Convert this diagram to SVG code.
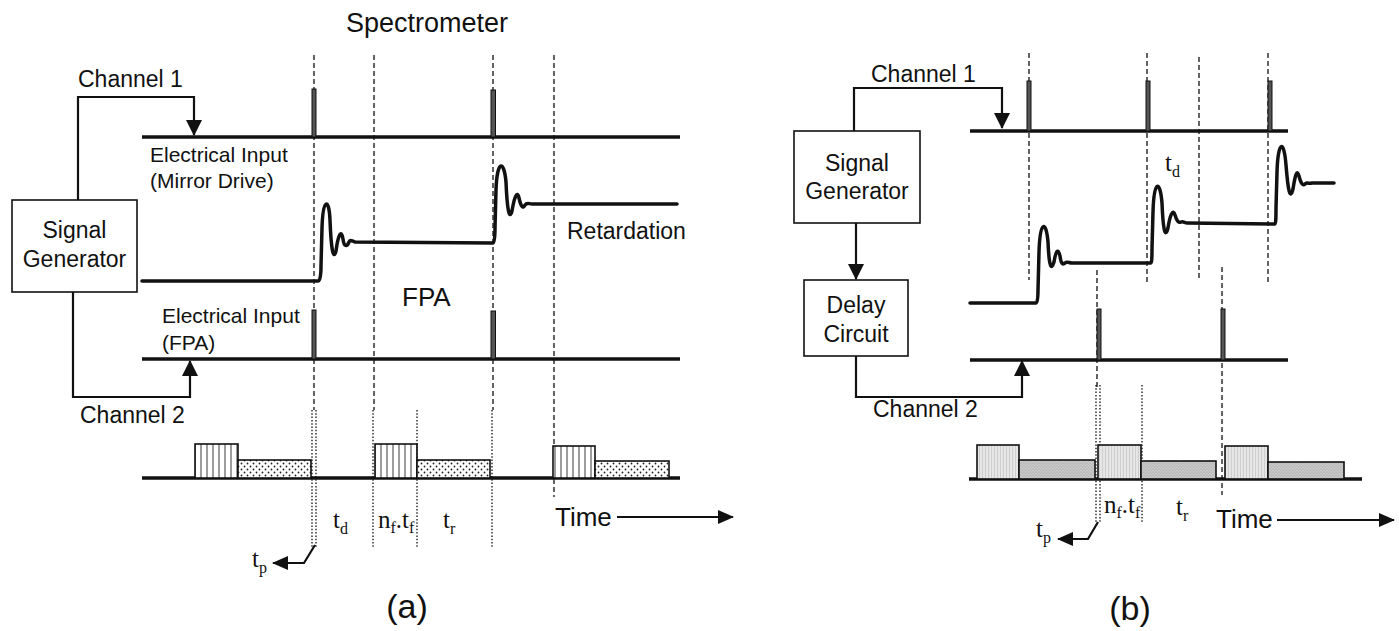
<svg xmlns="http://www.w3.org/2000/svg" width="1399" height="631" viewBox="0 0 1399 631">
<style>
.lbl{font-family:"Liberation Sans",Arial,sans-serif;font-size:23px;fill:#111}
.sm{font-family:"Liberation Sans",Arial,sans-serif;font-size:21px;fill:#111}
.big{font-family:"Liberation Sans",Arial,sans-serif;font-size:26px;fill:#111}
.cap{font-family:"Liberation Sans",Arial,sans-serif;font-size:34px;fill:#111}
.t{font-family:"Liberation Serif","Times New Roman",serif;font-size:25px;fill:#111}
.sub{font-size:16px}
.box{fill:#fff;stroke:#111;stroke-width:1.6}
.conn{fill:none;stroke:#111;stroke-width:2.2}
.axis{fill:none;stroke:#111;stroke-width:3.5}
.wave{fill:none;stroke:#111;stroke-width:3.5;stroke-linejoin:round;stroke-linecap:round}
.dash{fill:none;stroke:#111;stroke-width:1.3;stroke-dasharray:5,3}
.dot{fill:none;stroke:#111;stroke-width:1.3;stroke-dasharray:1.5,1.8}
.pulse{fill:#555;stroke:#111;stroke-width:1}
.barA1{fill:url(#vstripe);stroke:#111;stroke-width:1.6}
.barA2{fill:url(#stipple);stroke:#111;stroke-width:1.6}
.barB1{fill:url(#lightB);stroke:#111;stroke-width:1.6}
.barB2{fill:url(#darkB);stroke:#111;stroke-width:1.6}
</style>
<defs>
<marker id="ah" viewBox="0 0 16 16" refX="15" refY="8" markerWidth="16" markerHeight="16" orient="auto" markerUnits="userSpaceOnUse"><path d="M0,0 L16,8 L0,16 z" fill="#111"/></marker>
<marker id="ahs" viewBox="0 0 16 14" refX="15" refY="7" markerWidth="16" markerHeight="14" orient="auto" markerUnits="userSpaceOnUse"><path d="M0,0 L16,7 L0,14 z" fill="#111"/></marker>
<pattern id="vstripe" width="6" height="6" patternUnits="userSpaceOnUse"><rect width="6" height="6" fill="#fff"/><line x1="3" y1="0" x2="3" y2="6" stroke="#222" stroke-width="0.9"/></pattern>
<pattern id="stipple" width="6" height="6" patternUnits="userSpaceOnUse"><rect width="6" height="6" fill="#fff"/><circle cx="1.5" cy="1.5" r="0.9" fill="#222"/><circle cx="4.5" cy="4.5" r="0.9" fill="#222"/></pattern>
<pattern id="lightB" width="3" height="3" patternUnits="userSpaceOnUse"><rect width="3" height="3" fill="#e6e6e6"/><line x1="1.5" y1="0" x2="1.5" y2="3" stroke="#c4c4c4" stroke-width="0.7"/></pattern>
<pattern id="darkB" width="3" height="3" patternUnits="userSpaceOnUse"><rect width="3" height="3" fill="#c9c9c9"/><circle cx="1" cy="1" r="0.6" fill="#999"/><circle cx="2.5" cy="2.3" r="0.5" fill="#aaa"/></pattern>
</defs>

<!-- ===== Panel (a) ===== -->
<g id="a-guides">
<line class="dash" x1="314" y1="55" x2="314" y2="410"/>
<line class="dash" x1="374" y1="55" x2="374" y2="410"/>
<line class="dash" x1="493" y1="55" x2="493" y2="410"/>
<line class="dash" x1="554" y1="55" x2="554" y2="497"/>
<line class="dot" x1="312" y1="410" x2="312" y2="547"/>
<line class="dot" x1="316" y1="410" x2="316" y2="547"/>
<line class="dot" x1="373" y1="410" x2="373" y2="548"/>
<line class="dot" x1="417" y1="410" x2="417" y2="548"/>
<line class="dot" x1="492" y1="410" x2="492" y2="548"/>
</g>

<g id="a-axes">
<line class="axis" x1="142" y1="137" x2="680" y2="137"/>
<line class="axis" x1="142" y1="359" x2="680" y2="359"/>
<line class="axis" x1="142" y1="478" x2="680" y2="478"/>
<rect class="pulse" x="312" y="89" width="4" height="48"/>
<rect class="pulse" x="491" y="90" width="4.5" height="47"/>
<rect class="pulse" x="312" y="310" width="4" height="49"/>
<rect class="pulse" x="491" y="311" width="4.5" height="48"/>
</g>

<g id="a-wave">
<path class="wave" d="M142,281 L318,281 Q321,281 321,266 L322,228 C323,198 329,197 330,220 C331,246 333,262 336,251 C338,236 341,228 343,239 C344,247 347,247 349,242 C350,239 352,241 355,242 L493,243 Q495,243 495,228 L496,190 C497,160 504,159 506,182 C507,206 509,222 512,211 C514,199 517,189 519,198 C521,207 523,209 525,205 C527,202 529,204 532,204 L677,204"/>
</g>

<g id="a-bars">
<rect class="barA1" x="195" y="444" width="43" height="34"/>
<rect class="barA2" x="238" y="460" width="73" height="18"/>
<rect class="barA1" x="375" y="444" width="42" height="34"/>
<rect class="barA2" x="417" y="460" width="73" height="18"/>
<rect class="barA1" x="553" y="446" width="42" height="32"/>
<rect class="barA2" x="595" y="461" width="74" height="17"/>
</g>

<g id="a-siggen">
<rect class="box" x="12" y="200" width="125" height="92"/>
<text class="lbl" x="74.5" y="238" text-anchor="middle">Signal</text>
<text class="lbl" x="74.5" y="267" text-anchor="middle">Generator</text>
</g>

<g id="a-connectors">
<path class="conn" d="M78,200 V97 H194 V135" marker-end="url(#ah)"/>
<path class="conn" d="M73,292 V397 H190 V361" marker-end="url(#ah)"/>
<path class="conn" d="M315,545 L304,563 H273" marker-end="url(#ahs)"/>
<path class="conn" d="M617,517 H733" marker-end="url(#ahs)"/>
</g>

<g id="a-labels">
<text class="big" x="346" y="32" style="font-size:27px">Spectrometer</text>
<text class="lbl" x="78" y="87">Channel 1</text>
<text class="sm" x="150" y="162">Electrical Input</text>
<text class="sm" x="150" y="188">(Mirror Drive)</text>
<text class="lbl" x="567" y="239">Retardation</text>
<text class="big" x="402" y="306">FPA</text>
<text class="sm" x="162" y="323">Electrical Input</text>
<text class="sm" x="162" y="350">(FPA)</text>
<text class="lbl" x="80" y="423">Channel 2</text>
<text class="t" x="333" y="528">t<tspan class="sub" dy="6">d</tspan></text>
<text class="t" x="378" y="528">n<tspan class="sub" dy="5">f</tspan><tspan dy="-5">.t</tspan><tspan class="sub" dy="5">f</tspan></text>
<text class="t" x="443" y="528">t<tspan class="sub" dy="6">r</tspan></text>
<text class="big" x="555" y="526">Time</text>
<text class="t" x="252" y="567">t<tspan class="sub" dy="6">p</tspan></text>
<text class="cap" x="407" y="618" text-anchor="middle">(a)</text>
</g>

<!-- ===== Panel (b) ===== -->
<g id="b-guides">
<line class="dash" x1="1029" y1="53" x2="1029" y2="280"/>
<line class="dash" x1="1147" y1="53" x2="1147" y2="282"/>
<line class="dash" x1="1199" y1="57" x2="1199" y2="278"/>
<line class="dash" x1="1268" y1="53" x2="1268" y2="282"/>
<line class="dash" x1="1097" y1="270" x2="1097" y2="388"/>
<line class="dash" x1="1222" y1="267" x2="1222" y2="495"/>
<line class="dot" x1="1096" y1="385" x2="1096" y2="523"/>
<line class="dot" x1="1100" y1="385" x2="1100" y2="523"/>
<line class="dot" x1="1142" y1="385" x2="1142" y2="523"/>
</g>

<g id="b-axes">
<line class="axis" x1="970" y1="131" x2="1288" y2="131"/>
<line class="axis" x1="970" y1="360" x2="1288" y2="360"/>
<line class="axis" x1="969" y1="479" x2="1362" y2="479"/>
<rect class="pulse" x="1027" y="81" width="4" height="50"/>
<rect class="pulse" x="1146" y="81" width="4" height="50"/>
<rect class="pulse" x="1268" y="81" width="4" height="50"/>
<rect class="pulse" x="1097" y="309" width="4" height="51"/>
<rect class="pulse" x="1221" y="309" width="4" height="51"/>
</g>

<g id="b-wave">
<path class="wave" d="M970,303 L1036,303 Q1038,303 1038,290 L1039,252 C1040,221 1046,219 1048,242 C1049,265 1051,272 1054,262 C1056,250 1058,248 1060,256 C1061,264 1063,265 1065,263 C1067,261 1069,263 1072,263 L1151,263 Q1152,263 1152,248 L1153,212 C1154,180 1160,179 1162,203 C1163,228 1165,240 1168,228 C1170,215 1173,208 1175,215 C1177,222 1179,223 1181,222 C1183,221 1185,223 1187,223 L1275,224 Q1276,224 1276,208 L1277,172 C1278,140 1284,139 1286,165 C1288,190 1290,201 1293,189 C1295,176 1297,168 1299,176 C1301,184 1303,186 1305,184 C1307,182 1309,184 1312,183 L1334,183"/>
</g>

<g id="b-bars">
<rect class="barB1" x="977" y="445" width="42" height="34"/>
<rect class="barB2" x="1019" y="460" width="76" height="19"/>
<rect class="barB1" x="1098" y="445" width="43" height="34"/>
<rect class="barB2" x="1141" y="461" width="75" height="18"/>
<rect class="barB1" x="1225" y="446" width="43" height="33"/>
<rect class="barB2" x="1268" y="462" width="76" height="17"/>
</g>

<g id="b-siggen">
<rect class="box" x="794" y="131" width="126" height="92"/>
<text class="lbl" x="857" y="171" text-anchor="middle">Signal</text>
<text class="lbl" x="857" y="199" text-anchor="middle">Generator</text>
</g>

<g id="b-delay">
<rect class="box" x="804" y="280" width="104" height="76"/>
<text class="lbl" x="856" y="313" text-anchor="middle">Delay</text>
<text class="lbl" x="856" y="342" text-anchor="middle">Circuit</text>
</g>

<g id="b-connectors">
<path class="conn" d="M854,131 V88 H1002 V128" marker-end="url(#ah)"/>
<path class="conn" d="M856,223 V279" marker-end="url(#ah)"/>
<path class="conn" d="M856,356 V397 H1022 V361" marker-end="url(#ah)"/>
<path class="conn" d="M1098,522 L1088,539 H1058" marker-end="url(#ahs)"/>
<path class="conn" d="M1277,520 H1394" marker-end="url(#ahs)"/>
</g>

<g id="b-labels">
<text class="lbl" x="871" y="82">Channel 1</text>
<text class="t" x="1165" y="171">t<tspan class="sub" dy="6">d</tspan></text>
<text class="lbl" x="873" y="417">Channel 2</text>
<text class="t" x="1104" y="513">n<tspan class="sub" dy="5">f</tspan><tspan dy="-5">.t</tspan><tspan class="sub" dy="5">f</tspan></text>
<text class="t" x="1176" y="515">t<tspan class="sub" dy="6">r</tspan></text>
<text class="big" x="1216" y="528">Time</text>
<text class="t" x="1036" y="537">t<tspan class="sub" dy="6">p</tspan></text>
<text class="cap" x="1130" y="620" text-anchor="middle">(b)</text>
</g>
</svg>
